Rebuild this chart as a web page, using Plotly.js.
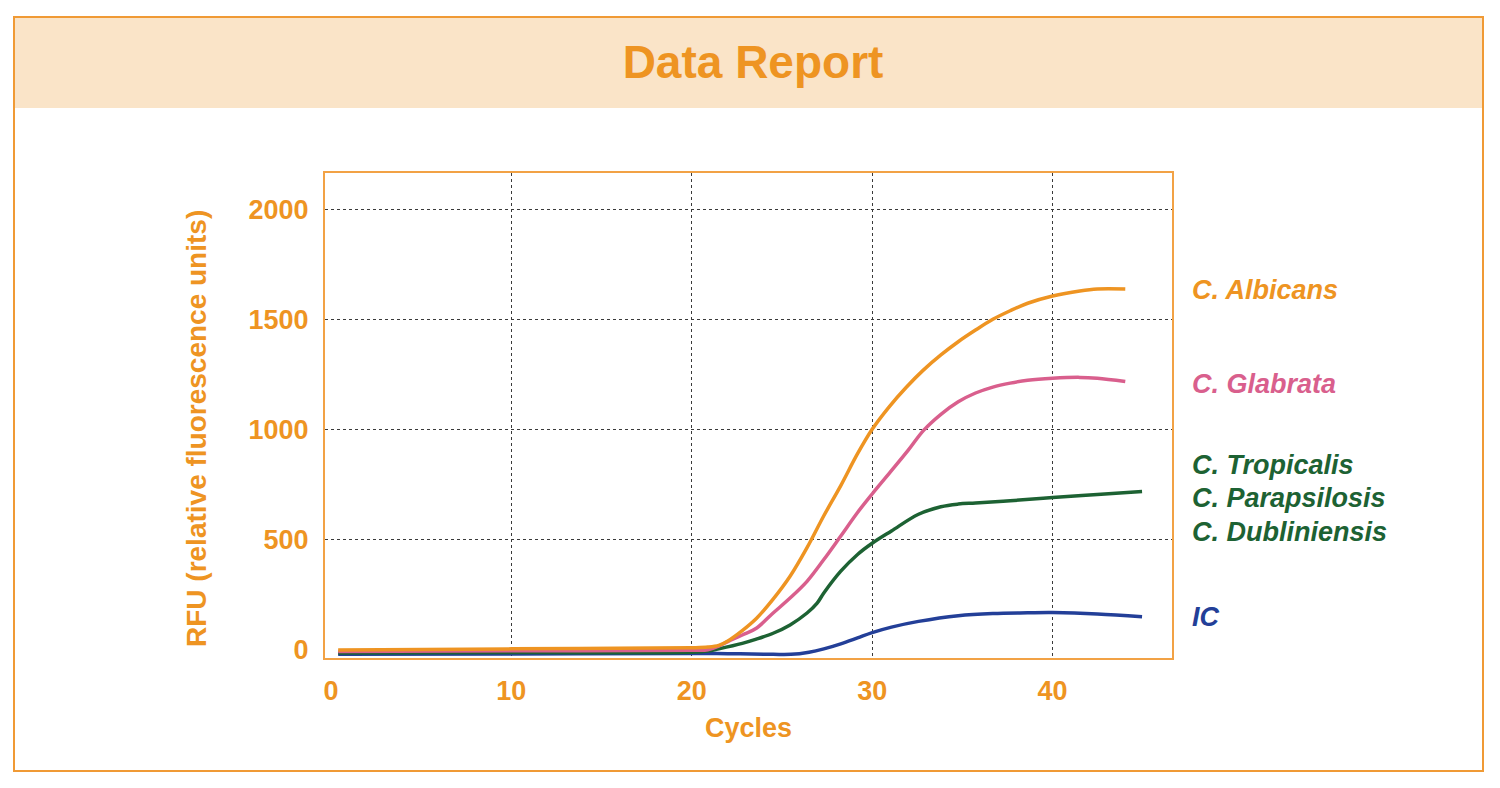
<!DOCTYPE html>
<html>
<head>
<meta charset="utf-8">
<script src="https://cdn.plot.ly/plotly-3.0.1.min.js"></script>
<style>html,body{margin:0;padding:0;background:#fff;}</style>
</head>
<body>
<div id="chart" style="width:1500px;height:788px;"></div>
<script>
// ---- data ----
const seriesNames = ["C. Albicans", "C. Glabrata", "C. Tropicalis / Parapsilosis / Dubliniensis", "IC"];

const albicansX = [0.4, 10, 20, 20.9, 21.5, 22, 22.8, 23.58, 24.51, 25.45, 26.39, 27.32, 28.26, 29.19, 30, 30.92, 31.88, 32.85, 33.81, 34.77, 35.73, 36.69, 37.65, 38.62, 40, 41.51, 42.48, 44.03];
const albicansY = [-3, 2, 7, 10, 18, 38, 85, 140, 228, 332, 462, 607, 744, 889, 1000, 1100, 1190, 1270, 1338, 1398, 1451, 1500, 1539, 1573, 1606, 1629, 1638, 1638];

const glabrataX = [0.4, 10, 20, 20.9, 21.5, 22, 22.8, 23.58, 24.51, 25.45, 26.39, 27.32, 28.26, 29.19, 30, 31, 32, 32.85, 33.81, 34.77, 35.73, 36.69, 37.65, 38.62, 40, 41.51, 42.48, 44.03];
const glabrataY = [-10, -7, -4, -2, 15, 35, 65, 96, 165, 233, 309, 408, 515, 622, 706, 805, 905, 995, 1068, 1125, 1165, 1192, 1210, 1223, 1232, 1236, 1232, 1217];

const greenX = [0.4, 10, 20, 20.9, 21.5, 22.8, 23.58, 24.51, 25.45, 26.39, 26.95, 27.32, 28.26, 29.19, 30, 31.07, 32.57, 33.81, 34.77, 35.73, 37.65, 40, 42.48, 44.96];
const greenY = [-17, -15, -13, -8, 2, 27, 46, 73, 111, 165, 210, 256, 355, 431, 482, 538, 614, 648, 660, 665, 675, 690, 704, 717];

const icX = [0.4, 10, 20, 22, 24, 25.5, 26.5, 27.32, 28.26, 29.19, 30, 31.07, 32.57, 34.77, 36.69, 38.62, 40, 42.48, 44.96];
const icY = [-23, -21, -19, -20, -22, -23, -13, 2, 25, 52, 76, 101, 127, 153, 163, 166, 167, 161, 148];

const xTickVals = [0, 10, 20, 30, 40];
const yTickVals = [0, 500, 1000, 1500, 2000];
const xGridVals = [10, 20, 30, 40];
const yGridVals = [500, 1000, 1500, 2000];

const labelTexts = ["C. Albicans", "C. Glabrata", "C. Tropicalis", "C. Parapsilosis", "C. Dubliniensis", "IC"];
const yTitleText = "RFU (relative fluorescence units)";

// ---- styling ----
const ORANGE = "#EE9422";
const PINK = "#D95F8D";
const GREEN = "#1D6233";
const BLUE = "#233F98";
const FONT = "Liberation Sans, Arial, Helvetica, sans-serif";
const XRANGE = [-0.33, 46.62];
const YRANGE = [-39.5, 2165];

const lineColors = [ORANGE, PINK, GREEN, BLUE];
const xs = [albicansX, glabrataX, greenX, icX];
const ys = [albicansY, glabrataY, greenY, icY];

const traces = seriesNames.map((n, i) => ({
  type: "scatter", mode: "lines", name: n,
  x: xs[i], y: ys[i],
  line: {color: lineColors[i], width: 3.5, shape: "spline", smoothing: 1},
  hoverinfo: "skip"
}));
// top-most series goes on the overlay axes (same ranges) that carry the grid
traces[0].xaxis = "x2";
traces[0].yaxis = "y2";
const ordered = [traces[3], traces[2], traces[1], traces[0]];

// plot area in pixels: x 325..1172, y 173..658
const L = 325, R = 1172, T = 173, B = 658;
const W = R - L, H = B - T;
const px = v => (v - L) / W;
const py = v => (B - v) / H;

const labelColors = [ORANGE, PINK, GREEN, GREEN, GREEN, BLUE];
const labelY = [290, 384, 465, 498, 532, 617];
const annotations = labelTexts.map((t, i) => ({
  text: t, xref: "paper", yref: "paper",
  x: px(1190), y: py(labelY[i]), xanchor: "left", yanchor: "middle",
  showarrow: false,
  font: {family: FONT, size: 27, color: labelColors[i], weight: "bold", style: "italic"}
}));
annotations.push({
  text: yTitleText, xref: "paper", yref: "paper",
  x: px(196), y: py(429), xanchor: "center", yanchor: "middle",
  textangle: -90, showarrow: false,
  font: {family: FONT, size: 28, color: ORANGE, weight: "bold"}
});

const gridStyle = {showgrid: true, gridcolor: "#3a3a3a", gridwidth: 1, griddash: "dot"};

const layout = {
  width: 1500, height: 788,
  margin: {l: L, r: 1500 - R, t: T, b: 788 - B, pad: 0},
  paper_bgcolor: "#ffffff", plot_bgcolor: "#ffffff",
  showlegend: false,
  title: {
    text: "Data Report", xref: "container", yref: "container",
    x: 0.502, y: 1 - 62 / 788, xanchor: "center", yanchor: "middle",
    font: {family: FONT, size: 46, color: ORANGE, weight: "bold"}
  },
  xaxis: {
    range: XRANGE, tickvals: xTickVals, ticktext: xTickVals.map(String),
    showgrid: false, zeroline: false,
    showline: true, linecolor: "#F2A245", linewidth: 2, mirror: true,
    ticks: "", ticklabelstandoff: 8,
    tickfont: {family: FONT, size: 27, color: ORANGE, weight: "bold"},
    title: {text: "Cycles", standoff: 13, font: {family: FONT, size: 27, color: ORANGE, weight: "bold"}}
  },
  yaxis: {
    range: YRANGE, tickvals: yTickVals, ticktext: yTickVals.map(String),
    showgrid: false, zeroline: false,
    showline: true, linecolor: "#F2A245", linewidth: 2, mirror: true,
    ticks: "", ticklabelstandoff: 9,
    tickfont: {family: FONT, size: 27, color: ORANGE, weight: "bold"}
  },
  xaxis2: Object.assign({
    overlaying: "x", range: XRANGE, tickvals: xGridVals,
    showticklabels: false, showline: false, zeroline: false, ticks: ""
  }, gridStyle),
  yaxis2: Object.assign({
    overlaying: "y", range: YRANGE, tickvals: yGridVals,
    showticklabels: false, showline: false, zeroline: false, ticks: ""
  }, gridStyle),
  shapes: [
    {type: "rect", xref: "paper", yref: "paper", layer: "below",
     x0: px(15), x1: px(1482), y0: py(108), y1: py(18),
     fillcolor: "#FAE4C8", line: {width: 0}},
    {type: "rect", xref: "paper", yref: "paper", layer: "below",
     x0: px(14), x1: px(1483), y0: py(771), y1: py(17),
     fillcolor: "rgba(0,0,0,0)", line: {color: "#F09A35", width: 2}}
  ],
  annotations: annotations
};

Plotly.newPlot("chart", ordered, layout, {staticPlot: true, displayModeBar: false});
</script>
</body>
</html>
